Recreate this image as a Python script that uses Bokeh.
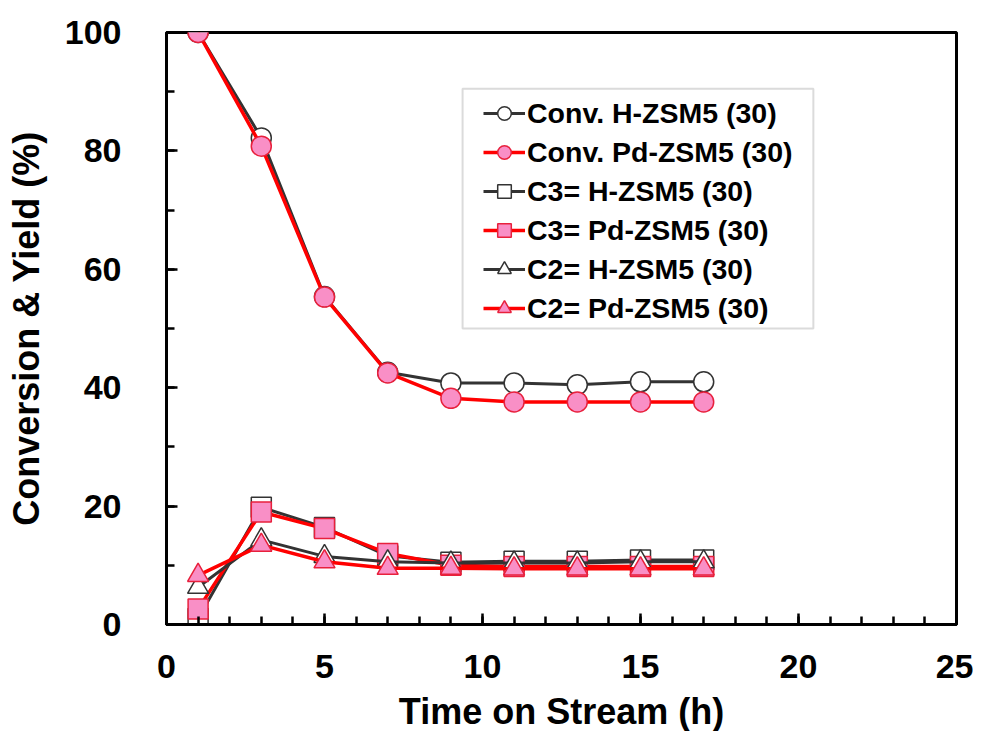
from bokeh.plotting import figure
from bokeh.models import Range1d, SingleIntervalTicker, Legend, LegendItem, BoxAnnotation
from bokeh.embed import file_html
from bokeh.resources import INLINE

time_h = [1, 3, 5, 7, 9, 11, 13, 15, 17]
conv_h = [100, 82.2, 55.4, 42.6, 40.8, 40.8, 40.5, 41.0, 41.0]
conv_pd = [100, 80.8, 55.3, 42.5, 38.2, 37.6, 37.6, 37.6, 37.6]
c3_h = [1.0, 19.8, 16.4, 11.6, 10.5, 10.7, 10.7, 10.9, 10.9]
c3_pd = [2.6, 19.0, 16.2, 12.0, 10.0, 9.8, 9.8, 9.8, 9.8]
c2_h = [6.3, 14.3, 11.5, 10.6, 10.4, 10.4, 10.4, 10.6, 10.6]
c2_pd = [8.3, 13.4, 10.6, 9.5, 9.5, 9.4, 9.4, 9.4, 9.4]

labels = ["Conv. H-ZSM5 (30)", "Conv. Pd-ZSM5 (30)", "C3= H-ZSM5 (30)",
          "C3= Pd-ZSM5 (30)", "C2= H-ZSM5 (30)", "C2= Pd-ZSM5 (30)"]

FONT = "Liberation Sans"
DARK = "#333333"
RED = "#ff0000"
PINK = "#f98fc6"
PINK_EDGE = "#e8203c"

p = figure(frame_width=790, frame_height=592, output_backend="svg",
           toolbar_location=None, x_range=Range1d(0, 25), y_range=Range1d(0, 100),
           min_border_left=166, min_border_top=32, min_border_right=17,
           min_border_bottom=90)
p.xgrid.visible = False
p.ygrid.visible = False
p.outline_line_color = "black"
p.outline_line_width = 3
p.outline_line_alpha = 1

# legend frame (decoration)
p.add_layout(BoxAnnotation(left=9.37, right=20.47, top=90.5, bottom=50.0,
                           fill_color="white", fill_alpha=1,
                           line_color="#888888", line_width=2, level="overlay"))

series = [
    (conv_h, DARK, "circle", "white", DARK),
    (conv_pd, RED, "circle", PINK, PINK_EDGE),
    (c3_h, DARK, "square", "white", DARK),
    (c3_pd, RED, "square", PINK, PINK_EDGE),
    (c2_h, DARK, "triangle", "white", DARK),
    (c2_pd, RED, "triangle", PINK, PINK_EDGE),
]
items = []
for (ys, lc, mk, fc, ec), lab in zip(series, labels):
    r1 = p.line(time_h, ys, line_color=lc, line_width=3.5 if lc == RED else 3)
    r2 = p.scatter(time_h, ys, marker=mk, size=20 if mk != "triangle" else 21,
                   fill_color=fc, line_color=ec, line_width=1.5)
    items.append(LegendItem(label=lab, renderers=[r1, r2]))

legend = Legend(items=items, location=(311, 293))
legend.label_text_font = FONT
legend.label_text_font_style = "bold"
legend.label_text_font_size = "28.5px"
legend.label_text_color = "black"
legend.glyph_width = 42
legend.glyph_height = 34
legend.spacing = 5
legend.padding = 6
legend.margin = 0
legend.label_standoff = 2
legend.border_line_alpha = 0
legend.background_fill_alpha = 0
p.add_layout(legend)

p.xaxis.ticker = SingleIntervalTicker(interval=5, num_minor_ticks=5)
p.yaxis.ticker = SingleIntervalTicker(interval=20, num_minor_ticks=2)
for ax in (p.xaxis[0], p.yaxis[0]):
    ax.axis_line_width = 3
    ax.axis_line_color = "black"
    ax.major_tick_in = 11
    ax.major_tick_out = 0
    ax.minor_tick_in = 8
    ax.minor_tick_out = 0
    ax.major_tick_line_width = 2.5
    ax.minor_tick_line_width = 2.5
    ax.major_label_text_font = FONT
    ax.major_label_text_font_style = "bold"
    ax.major_label_text_font_size = "34px"
    ax.major_label_text_color = "black"
    ax.axis_label_text_font = FONT
    ax.axis_label_text_font_style = "bold"
    ax.axis_label_text_font_size = "36px"
    ax.axis_label_text_color = "black"

p.xaxis.axis_label = "Time on Stream (h)"
p.yaxis.axis_label = "Conversion & Yield (%)"
p.xaxis.major_label_standoff = 30
p.xaxis.axis_label_standoff = 10
p.yaxis.major_label_standoff = 45
p.yaxis.axis_label_standoff = 15

open("out.html", "w").write(file_html(p, INLINE))
